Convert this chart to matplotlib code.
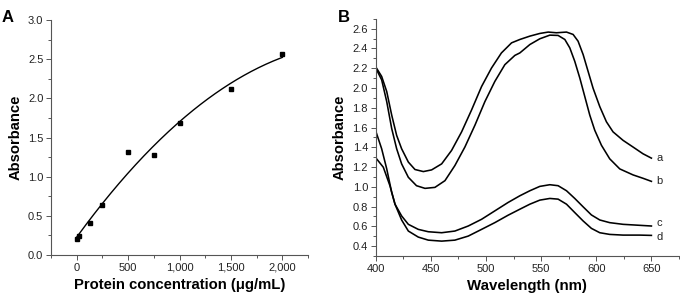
import numpy as np
import matplotlib.pyplot as plt
from matplotlib.ticker import MultipleLocator, FuncFormatter

plt.rcParams['font.family'] = ['Liberation Sans', 'DejaVu Sans']

# panel A: protein standard curve
conc = [0, 25, 125, 250, 500, 750, 1000, 1500, 2000]
absorb = [0.21, 0.24, 0.41, 0.64, 1.32, 1.28, 1.68, 2.12, 2.57]

# panel B: spectra (wavelength nm, absorbance)
wl_a = [400.8, 405.4, 410, 414.5, 419, 423.5, 429.6, 435.6, 443.2, 450.7, 459.8, 468.8,
        477.9, 486.9, 496, 505, 514, 523.2, 530.7, 539.8, 548.8, 556.4, 563.9, 573,
        579, 583.5, 588.1, 592.6, 597.1, 603.2, 609.2, 615.2, 624.3, 633.4, 642.4, 650]
ab_a = [2.20, 2.117, 1.964, 1.726, 1.52, 1.385, 1.25, 1.175, 1.154, 1.171, 1.232, 1.368,
        1.556, 1.777, 2.015, 2.202, 2.355, 2.457, 2.491, 2.525, 2.552, 2.566, 2.559, 2.566,
        2.542, 2.474, 2.338, 2.168, 1.998, 1.811, 1.658, 1.556, 1.47, 1.402, 1.334, 1.29]
wl_b = [400.8, 405.4, 410, 414.5, 419, 423.5, 429.6, 437, 444.7, 453.7, 462.8, 471.8,
        480.9, 490, 499, 508, 517.1, 526.2, 530.7, 539.8, 548.8, 557.9, 565.4, 571.5,
        576, 580.5, 585.1, 589.6, 594.1, 598.6, 604.7, 612.2, 621.3, 633.4, 642.4, 650]
ab_b = [2.185, 2.083, 1.862, 1.59, 1.385, 1.232, 1.096, 1.011, 0.984, 0.994, 1.062, 1.215,
        1.403, 1.624, 1.862, 2.066, 2.236, 2.33, 2.355, 2.44, 2.498, 2.535, 2.532, 2.491,
        2.406, 2.27, 2.1, 1.913, 1.726, 1.573, 1.42, 1.283, 1.181, 1.12, 1.086, 1.055]
wl_c = [400.8, 406.9, 412.9, 417.5, 423.5, 429.6, 438.6, 447.7, 459.8, 471.8, 483.9, 496,
        508, 520, 530.7, 539.8, 548.8, 557.9, 565.4, 573, 580.5, 588.1, 595.6, 603.2,
        612.2, 624.3, 639.4, 650]
ab_c = [1.283, 1.198, 1.011, 0.824, 0.705, 0.62, 0.569, 0.545, 0.535, 0.552, 0.603, 0.671,
        0.756, 0.841, 0.909, 0.96, 1.004, 1.021, 1.011, 0.96, 0.882, 0.797, 0.715, 0.664,
        0.637, 0.62, 0.61, 0.603]
wl_d = [400.8, 405.4, 410, 414.5, 417.5, 423.5, 429.6, 438.6, 447.7, 459.8, 471.8, 483.9,
        496, 508, 520, 530.7, 539.8, 548.8, 557.9, 565.4, 573, 580.5, 588.1, 595.6, 603.2,
        612.2, 624.3, 639.4, 650]
ab_d = [1.539, 1.385, 1.181, 0.943, 0.824, 0.664, 0.552, 0.491, 0.46, 0.45, 0.46, 0.501,
        0.569, 0.637, 0.712, 0.773, 0.824, 0.865, 0.882, 0.875, 0.824, 0.739, 0.654, 0.579,
        0.535, 0.518, 0.511, 0.511, 0.508]
curve_labels = ['a', 'b', 'c', 'd']

spine_col = '#555555'
tick_col = '#222222'

fig = plt.figure(figsize=(6.8, 2.99), dpi=100)
axA = fig.add_axes([0.075, 0.147, 0.378, 0.786])
axB = fig.add_axes([0.5525, 0.144, 0.446, 0.793])


def style(ax):
    for s in ['top', 'right']:
        ax.spines[s].set_visible(False)
    for s in ['left', 'bottom']:
        ax.spines[s].set_color(spine_col)
        ax.spines[s].set_linewidth(0.8)
    ax.tick_params(which='both', direction='out', color=spine_col, labelcolor=tick_col,
                   labelsize=8, width=0.7)
    ax.tick_params(which='major', length=3.5, pad=2)
    ax.tick_params(which='minor', length=2)


# --- A
coef = np.polyfit(conc, absorb, 2)
xs = np.linspace(0, 2000, 200)
axA.plot(xs, np.polyval(coef, xs), color='black', lw=1.0)
axA.plot(conc, absorb, 's', color='black', ms=2.8)
axA.set_xlim(-250, 2250)
axA.set_ylim(0, 3.0)
axA.xaxis.set_major_locator(MultipleLocator(500))
axA.xaxis.set_minor_locator(MultipleLocator(250))
axA.yaxis.set_major_locator(MultipleLocator(0.5))
axA.yaxis.set_minor_locator(MultipleLocator(0.25))
axA.xaxis.set_major_formatter(FuncFormatter(lambda v, p: f'{int(v):,}'))
axA.yaxis.set_major_formatter(FuncFormatter(lambda v, p: f'{v:.1f}'))
style(axA)
axA.set_xlabel('Protein concentration (μg/mL)', fontsize=10.7, fontweight='bold', labelpad=4)
axA.set_ylabel('Absorbance', fontsize=10.6, fontweight='bold', labelpad=4)

# --- B
# small vertical nudges (points) so the c/d labels do not collide
nudge = {'a': 0, 'b': 0, 'c': 2.5, 'd': -1}
for wl, ab, lab in zip([wl_a, wl_b, wl_c, wl_d], [ab_a, ab_b, ab_c, ab_d], curve_labels):
    axB.plot(wl, ab, color='black', lw=1.15, solid_joinstyle='round')
    axB.annotate(lab, (wl[-1], ab[-1]), xytext=(3.5, nudge[lab]), textcoords='offset points',
                 fontsize=8, color=tick_col, va='center', ha='left')
axB.set_xlim(400, 675)
axB.set_ylim(0.3, 2.7)
axB.xaxis.set_major_locator(MultipleLocator(50))
axB.xaxis.set_minor_locator(MultipleLocator(25))
axB.yaxis.set_major_locator(MultipleLocator(0.2))
axB.yaxis.set_minor_locator(MultipleLocator(0.1))
axB.yaxis.set_major_formatter(FuncFormatter(lambda v, p: f'{v:.1f}'))
style(axB)
axB.set_xlabel('Wavelength (nm)', fontsize=10.8, fontweight='bold', labelpad=4)
axB.set_ylabel('Absorbance', fontsize=10.6, fontweight='bold', labelpad=4)

fig.text(0.003, 0.965, 'A', fontsize=12, fontweight='bold', va='top')
fig.text(0.497, 0.965, 'B', fontsize=12, fontweight='bold', va='top')

fig.savefig('out.png', dpi=100)
